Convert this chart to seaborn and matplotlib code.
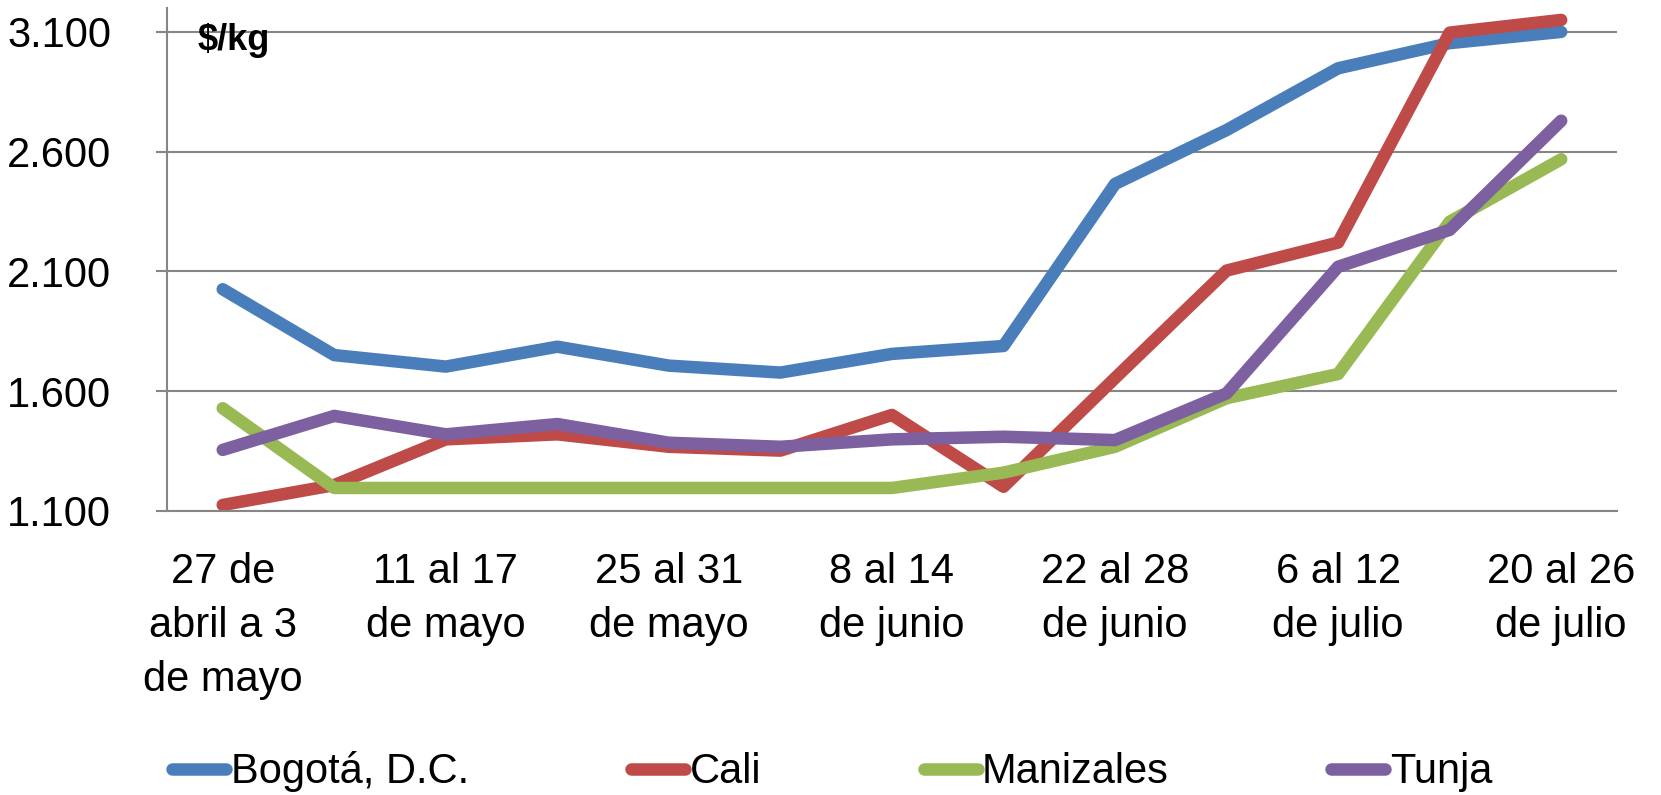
import pandas as pd
import seaborn as sns
import matplotlib.pyplot as plt
from matplotlib.ticker import FuncFormatter

weeks = [
    "27 de\nabril a 3\nde mayo", "4 al 10\nde mayo", "11 al 17\nde mayo", "18 al 24\nde mayo",
    "25 al 31\nde mayo", "1 al 7\nde junio", "8 al 14\nde junio", "15 al 21\nde junio",
    "22 al 28\nde junio", "29 de junio\na 5 de julio", "6 al 12\nde julio", "13 al 19\nde julio",
    "20 al 26\nde julio",
]
bogota = [2025, 1750, 1702, 1785, 1706, 1677, 1755, 1788, 2465, 2690, 2948, 3053, 3100]
cali = [1124, 1207, 1398, 1419, 1367, 1351, 1500, 1200, 1654, 2103, 2220, 3097, 3150]
manizales = [1528, 1195, 1195, 1195, 1195, 1195, 1195, 1259, 1367, 1570, 1671, 2307, 2568]
tunja = [1354, 1496, 1419, 1462, 1384, 1367, 1398, 1409, 1395, 1590, 2119, 2273, 2729]
yticks = [1100, 1600, 2100, 2600, 3100]

cities = ["Bogotá, D.C.", "Cali", "Manizales", "Tunja"]
colors = ["#4A7EBB", "#BE4B48", "#98B954", "#7D60A0"]

frames = []
for city, vals in zip(cities, [bogota, cali, manizales, tunja]):
    frames.append(pd.DataFrame({"semana": weeks, "precio": vals, "ciudad": city}))
df = pd.concat(frames, ignore_index=True)

sns.set_style("white")
plt.rcParams["font.family"] = ["Liberation Sans", "DejaVu Sans"]
plt.rcParams["text.color"] = "black"
plt.rcParams["xtick.color"] = "black"
plt.rcParams["ytick.color"] = "black"

fig = plt.figure(figsize=(16.61, 7.95), dpi=100)
ax = fig.add_axes([0.1005, 0.3576, 0.873, 0.6324])

sns.lineplot(data=df, x="semana", y="precio", hue="ciudad", palette=colors,
             linewidth=9, ax=ax, sort=False, solid_capstyle="round")

ax.set_xlim(-0.5, len(weeks) - 0.5)
ax.set_ylim(1100, 3200)
ax.set_yticks(yticks)
ax.yaxis.set_major_formatter(FuncFormatter(lambda v, p: f"{int(v):,}".replace(",", ".")))
ax.set_xticks(range(0, len(weeks), 2))
ax.set_xticklabels(weeks[::2], linespacing=1.45)
ax.grid(axis="y", color="#868686", linewidth=1.5)
ax.set_axisbelow(True)
for s in ["top", "right"]:
    ax.spines[s].set_visible(False)
ax.spines["left"].set_color("#868686")
ax.spines["left"].set_linewidth(1.5)
ax.spines["bottom"].set_color("#868686")
ax.spines["bottom"].set_linewidth(1.5)
ax.tick_params(axis="y", labelsize=30, length=8, width=1.5, color="#868686",
               labelcolor="black", pad=32, left=True)
ax.tick_params(axis="x", labelsize=30, length=0, pad=30, labelcolor="black")
ax.set_xlabel("")
ax.set_ylabel("")

ax.text(0.021, 0.935, "$/kg", transform=ax.transAxes, fontsize=26, fontweight="bold",
        va="center", ha="left", color="black")

handles, labels = ax.get_legend_handles_labels()
for h in handles:
    h.set_linewidth(9)
    h.set_solid_capstyle("round")
ax.legend(handles, labels, loc="center", bbox_to_anchor=(0.501, 0.029),
          bbox_transform=fig.transFigure, ncol=4, frameon=False, fontsize=30,
          handlelength=1.3, handletextpad=0.1, columnspacing=3.9, borderaxespad=0,
          labelcolor="black")

fig.savefig("out.png", dpi=100)
